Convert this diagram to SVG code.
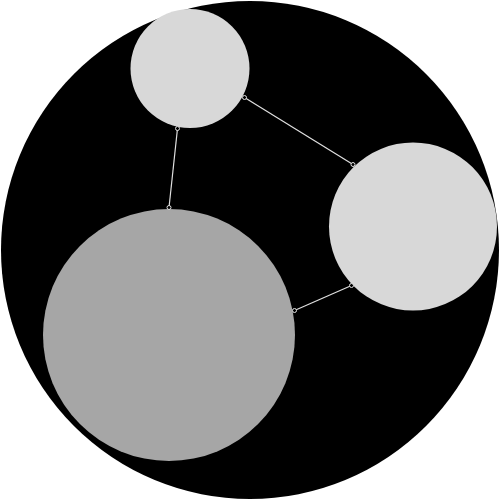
<svg xmlns="http://www.w3.org/2000/svg" width="500" height="500" viewBox="0 0 500 500">
<style>
.light{fill:#d8d8d8}
.gray{fill:#a6a6a6}
.edge{stroke:#e0e0e0;stroke-width:1.2;fill:none}
.end{fill:#000;stroke:#e0e0e0;stroke-width:1}
</style>
<rect width="500" height="500" fill="#fff"/>
<g id="outer"><circle cx="250" cy="250" r="249" fill="#000"/></g>
<g id="node-top"><circle class="light" cx="190" cy="68.5" r="59.5"/></g>
<g id="node-right"><circle class="light" cx="413" cy="226.5" r="84"/></g>
<g id="node-bottom"><circle class="gray" cx="169" cy="335" r="126"/></g>
<g id="connectors">
<line class="edge" x1="177.5" y1="128.5" x2="169" y2="207.5"/>
<line class="edge" x1="244.5" y1="97.5" x2="353" y2="164.5"/>
<line class="edge" x1="294.5" y1="310.5" x2="351.5" y2="285.5"/>
<circle class="end" cx="177.5" cy="128.5" r="2"/>
<circle class="end" cx="169" cy="207.5" r="2"/>
<circle class="end" cx="244.5" cy="97.5" r="2"/>
<circle class="end" cx="353" cy="164.5" r="2"/>
<circle class="end" cx="294.5" cy="310.5" r="2"/>
<circle class="end" cx="351.5" cy="285.5" r="2"/>
</g>
</svg>
